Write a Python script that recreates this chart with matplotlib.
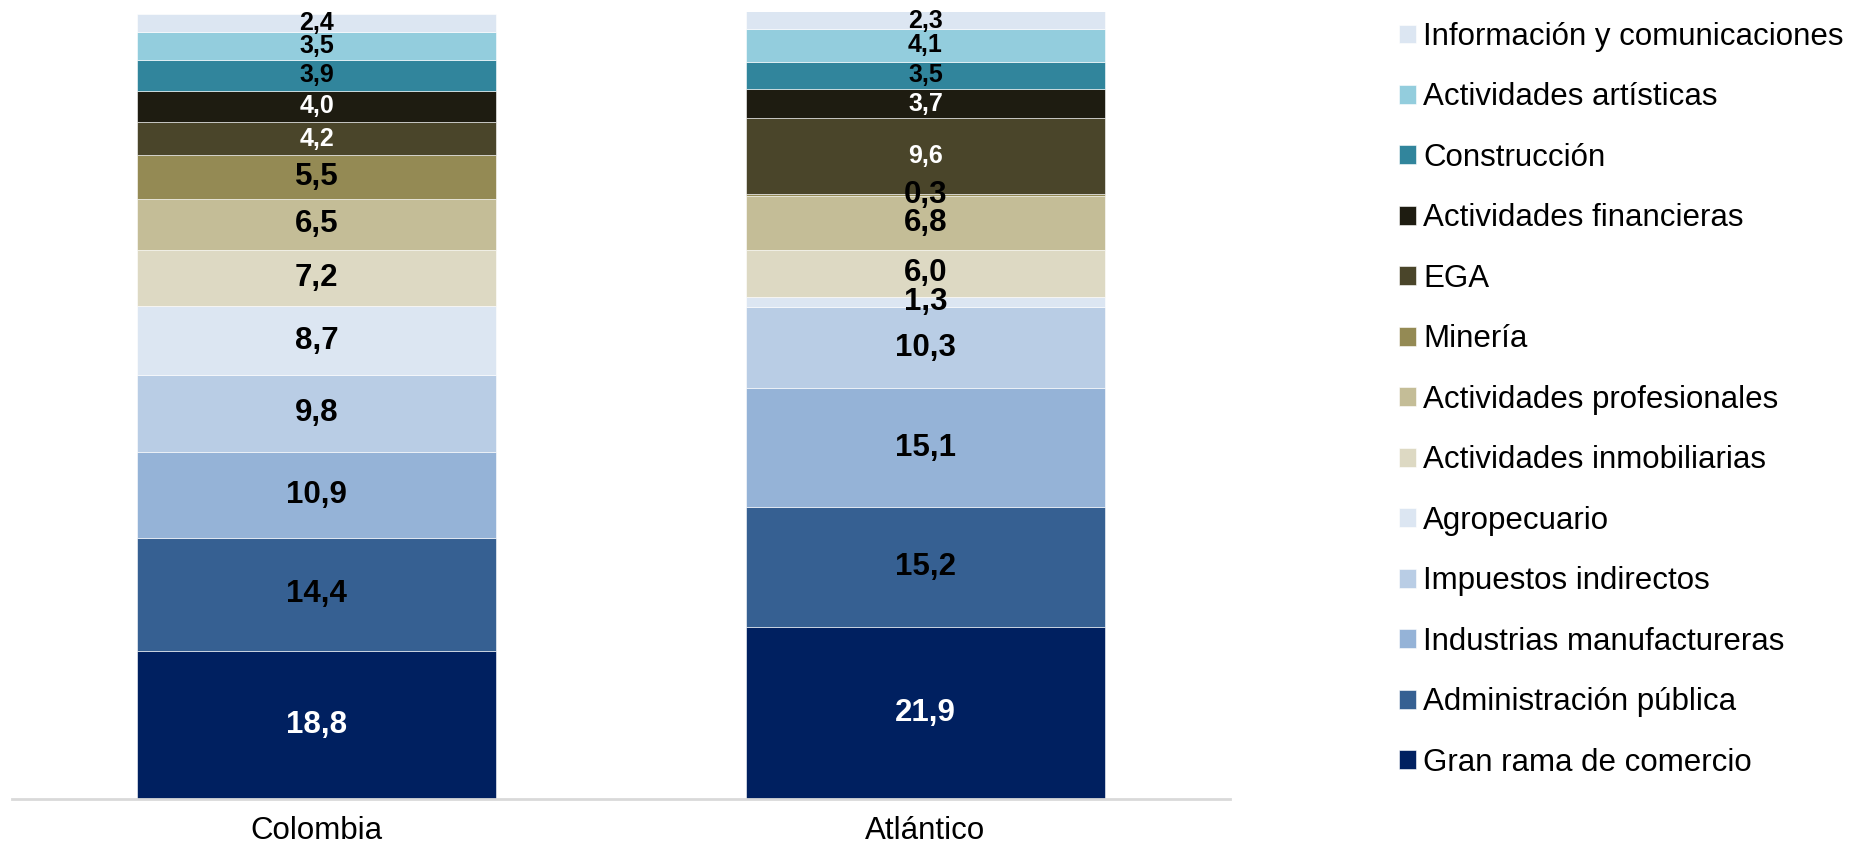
import numpy as np
import matplotlib
matplotlib.use("Agg")
import matplotlib.pyplot as plt

plt.rcParams['font.family'] = ['Liberation Sans', 'DejaVu Sans']

regions = ['Colombia', 'Atlántico']

# sectors, bottom to top
sectors = ['Gran rama de comercio', 'Administración pública', 'Industrias manufactureras',
           'Impuestos indirectos', 'Agropecuario', 'Actividades inmobiliarias',
           'Actividades profesionales', 'Minería', 'EGA', 'Actividades financieras',
           'Construcción', 'Actividades artísticas', 'Información y comunicaciones']

colombia = [18.8, 14.4, 10.9, 9.8, 8.7, 7.2, 6.5, 5.5, 4.2, 4.0, 3.9, 3.5, 2.4]
atlantico = [21.9, 15.2, 15.1, 10.3, 1.3, 6.0, 6.8, 0.3, 9.6, 3.7, 3.5, 4.1, 2.3]

colors = ['#002060', '#366092', '#95B3D7', '#B9CDE5', '#DCE6F2', '#DDD9C3',
          '#C4BD97', '#948A54', '#4A452A', '#1E1C11', '#31859C', '#93CDDD', '#DCE6F2']
label_colors = ['white', 'black', 'black', 'black', 'black', 'black',
                'black', 'black', 'white', 'white', 'black', 'black', 'black']
label_sizes = [22.5] * 8 + [18] * 5

W, H = 1855, 851
fig = plt.figure(figsize=(W / 100, H / 100), dpi=100)
ax = fig.add_axes([12 / W, 52 / H, (1230 - 12) / W, (799 - 12) / H])

x = np.arange(len(regions))
bottom = np.zeros(len(regions))
for i, name in enumerate(sectors):
    vals = np.array([colombia[i], atlantico[i]])
    b = ax.bar(x, vals, 0.588, bottom=bottom, color=colors[i], label=name,
               edgecolor='white', linewidth=0.4)
    ax.bar_label(b, labels=[f'{v:.1f}'.replace('.', ',') for v in vals],
                 label_type='center', color=label_colors[i],
                 fontsize=label_sizes[i], fontweight='bold')
    bottom += vals

ax.set_xlim(-0.5, 1.5)
ax.set_ylim(0, 100)
ax.set_xticks(x)
ax.set_xticklabels(regions, fontsize=22.5)
ax.tick_params(axis='x', length=0, pad=12)
ax.set_yticks([])
for s in ['top', 'right', 'left']:
    ax.spines[s].set_visible(False)
ax.spines['bottom'].set_color('#D9D9D9')
ax.spines['bottom'].set_linewidth(2)

handles, labels = ax.get_legend_handles_labels()
fig.legend(handles[::-1], labels[::-1], loc='upper left',
           bbox_to_anchor=(1399 / W, 1 - 22 / H), frameon=False,
           fontsize=22.5, handlelength=0.55, handleheight=0.55,
           handletextpad=0.22, labelspacing=0.975, borderpad=0, borderaxespad=0)

fig.savefig('out.png', dpi=100)
